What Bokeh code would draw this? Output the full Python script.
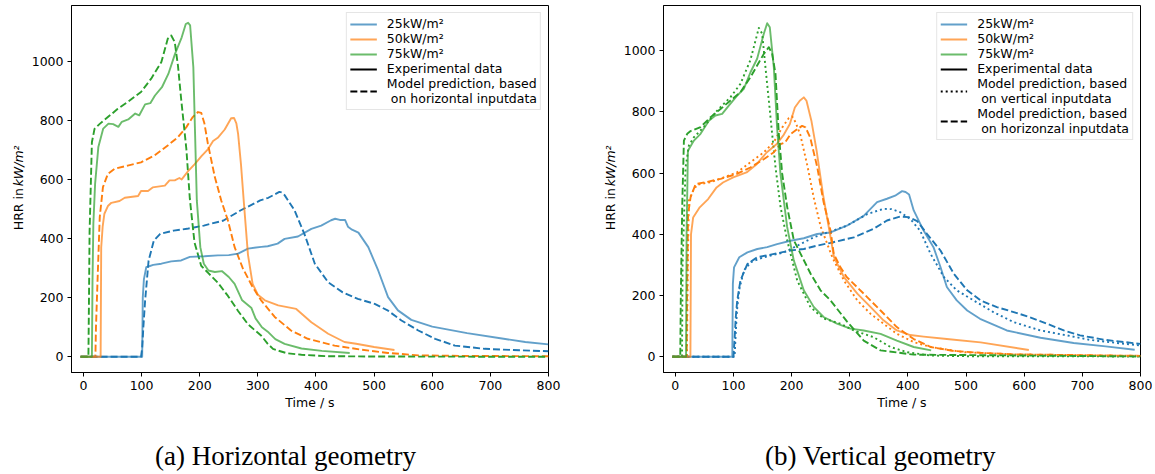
import math
from bokeh.plotting import figure
from bokeh.models import Range1d, Legend, LegendItem, FixedTicker
from bokeh.core.properties import value
from bokeh.layouts import row, column
from bokeh.embed import file_html
from bokeh.resources import INLINE

# ---------------- data: (a) horizontal geometry ----------------
h25_exp_t = [-5, 101, 102, 104, 108, 120, 134, 151, 168, 183, 208, 231, 250, 266, 283, 306, 317, 334, 346, 369, 392, 409, 426, 433, 441, 450, 455, 462, 473, 490, 507, 524, 541, 564, 600, 660, 720, 760, 800]
h25_exp_v = [0, 0, 200, 263, 303, 311, 315, 323, 326, 338, 340, 343, 344, 349, 366, 372, 374, 383, 399, 407, 433, 444, 462, 467, 463, 463, 440, 430, 420, 371, 292, 202, 157, 125, 102, 80, 62, 50, 42]
h25_mod_t = [-5, 99, 101, 103, 106, 112, 121, 132, 155, 178, 207, 241, 250, 270, 304, 318, 337, 341, 346, 363, 380, 398, 421, 446, 472, 501, 524, 547, 576, 605, 639, 690, 750, 800]
h25_mod_v = [0, 0, 30, 100, 189, 325, 393, 416, 427, 433, 444, 461, 472, 495, 529, 538, 558, 556, 547, 496, 416, 315, 252, 218, 196, 179, 156, 123, 89, 61, 38, 27, 22, 19]
h50_exp_t = [-5, 29.5, 30.5, 33, 36, 42, 48, 62, 71, 94, 99, 111, 119, 140, 148, 157, 165, 169, 180, 191, 203, 214, 223, 231, 243, 254, 259, 263, 266, 271, 276, 283, 291, 300, 312, 335, 366, 392, 421, 449, 469, 500, 535]
h50_exp_v = [0, 0, 370, 440, 484, 510, 521, 527, 538, 544, 561, 561, 573, 579, 597, 597, 605, 600, 628, 651, 679, 702, 730, 741, 769, 807, 808, 790, 754, 650, 520, 345, 247, 210, 191, 174, 162, 117, 78, 50, 44, 33, 23]
h50_mod_t = [-5, 20.5, 21.5, 24, 28, 33.5, 42, 53.5, 76, 99, 122, 145, 162.5, 177, 188, 197, 202.7, 208, 214, 226, 237, 248.5, 260, 274, 291, 306, 329, 357, 386, 432, 478, 524, 576, 650, 800]
h50_mod_v = [0, 0, 100, 247, 473, 574, 619, 636, 647, 658, 681, 715, 743, 777, 811, 828, 825, 790, 721, 608, 529, 461, 371, 300, 236, 190, 135, 89, 61, 38, 24, 13, 5, 3, 2]
h75_exp_t = [-5, 14.5, 15.5, 17, 20, 25.6, 34, 43, 51, 60, 66, 77, 89, 96, 106, 115, 123, 135, 146, 157.5, 169, 176, 180, 183.5, 189, 192, 195, 201, 207, 215, 226, 238, 250, 260, 273, 289, 296, 307, 317, 330, 346, 375, 410, 458]
h75_exp_v = [0, 0, 250, 450, 585, 710, 772, 789, 787, 778, 795, 803, 823, 817, 854, 858, 884, 912, 957, 1025, 1081, 1126, 1130, 1121, 980, 754, 529, 371, 315, 292, 287, 290, 270, 247, 191, 165, 130, 100, 85, 60, 44, 28, 20, 13]
h75_mod_t = [-5, 8.5, 9.5, 10.5, 14.5, 19, 28, 42, 59, 76, 99, 116.5, 134, 145, 151, 157, 162.5, 168, 177, 183, 191, 202.5, 214, 231, 248.5, 266, 283, 306, 317, 326, 335, 350, 375, 420, 500, 800]
h75_mod_v = [0, 0, 200, 422, 726, 771, 788, 811, 839, 862, 896, 941, 997, 1076, 1087, 1065, 986, 873, 703, 534, 387, 308, 285, 251, 206, 155, 110, 71, 44, 27, 21, 12, 7, 2, 1, 0]

# ---------------- data: (b) vertical geometry ----------------
v25_exp_t = [-5, 98, 99, 101, 110, 124, 141, 158, 175, 198, 221, 244, 267, 295, 324, 347, 364, 378, 390, 396, 402, 410, 427, 444, 456, 467, 484, 502, 524, 570, 628, 685, 740, 790]
v25_exp_v = [0, 0, 238, 292, 325, 341, 352, 358, 368, 379, 387, 401, 406, 428, 460, 505, 516, 526, 541, 538, 530, 478, 412, 358, 293, 228, 184, 151, 124, 86, 62, 45, 34, 23]
v25_vmod_t = [-5, 102, 104, 106, 110, 118, 130, 152, 187, 238, 295, 330, 358, 372, 387, 404, 421, 439, 462, 484, 513, 547, 582, 628, 673, 714, 760, 800]
v25_vmod_v = [0, 0, 80, 150, 220, 282, 309, 325, 341, 390, 428, 466, 483, 482, 472, 450, 412, 336, 260, 217, 184, 146, 113, 86, 70, 55, 45, 37]
v25_hmod_t = [-5, 100, 102, 104, 106.5, 112, 124, 141, 170, 198, 221, 244, 267, 307, 341, 364, 387, 401, 416, 433, 456, 479, 502, 525, 553, 582, 610, 639, 668, 696, 740, 800]
v25_hmod_v = [0, 0, 60, 130, 184, 249, 303, 325, 336, 347, 352, 363, 372, 390, 418, 445, 458, 456, 443, 401, 347, 271, 217, 184, 162, 146, 129, 108, 86, 70, 55, 42]
v50_exp_t = [-5, 26, 27, 30.7, 42, 56.5, 71, 82, 99.5, 122.5, 140, 157, 174, 185.5, 197, 205.6, 214, 221, 225.6, 234, 243, 254, 266, 273, 290, 313, 336, 358, 381, 404, 427, 467, 525, 608]
v50_exp_v = [0, 0, 400, 455, 488, 515, 553, 569, 586, 602, 629, 667, 694, 722, 760, 814, 836, 847, 836, 771, 673, 530, 401, 325, 260, 206, 162, 119, 86, 71, 66, 58, 47, 22]
v50_vmod_t = [-5, 20, 21.5, 23.4, 29, 37.7, 60.6, 83.5, 106, 129, 152, 169, 184, 195, 201, 207, 215, 227, 238, 250, 260, 270, 290, 313, 336, 358, 381, 410, 439, 496, 582, 800]
v50_vmod_v = [0, 0, 300, 510, 537, 562, 570, 586, 602, 635, 667, 700, 749, 779, 785, 765, 725, 625, 520, 425, 375, 325, 249, 184, 140, 108, 75, 48, 32, 15, 8, 3]
v50_hmod_t = [-5, 19.5, 20.5, 22, 26.3, 35, 52, 78, 106, 129, 152, 169, 181, 189, 198, 209.5, 218, 224, 232, 244, 255, 267, 272.5, 284, 295, 324, 353, 381, 410, 439, 479, 525, 582, 800]
v50_hmod_v = [0, 0, 250, 466, 521, 564, 570, 581, 597, 618, 645, 667, 694, 700, 727, 743, 754, 749, 716, 620, 505, 412, 336, 292, 260, 206, 151, 97, 58, 32, 19, 13, 8, 3]
v75_exp_t = [-5, 18.5, 19.4, 21.7, 32, 43.4, 57.7, 69, 80.6, 92, 106.4, 117.8, 129.3, 140.7, 152.2, 158, 162.5, 169.4, 175, 180.8, 192.3, 203.7, 220.9, 238, 255, 278, 301, 324, 353, 381, 410, 440]
v75_exp_v = [0, 0, 400, 673, 706, 728, 771, 788, 793, 820, 853, 875, 929, 973, 1055, 1089, 1076, 946, 750, 598, 424, 315, 217, 163, 130, 108, 92, 86, 75, 53, 32, 21]
v75_vmod_t = [-5, 11.5, 12.5, 17.7, 23.4, 32, 49, 72, 95, 112, 129, 138, 143.7, 149.4, 155, 163.7, 172.3, 181, 192.4, 209.6, 232.5, 255, 284, 307, 341, 370, 399, 439, 500, 800]
v75_vmod_v = [0, 0, 300, 619, 690, 717, 750, 804, 848, 891, 968, 1033, 1074, 1055, 946, 782, 619, 489, 380, 249, 162, 125, 108, 86, 64, 32, 15, 4, 2, 1]
v75_hmod_t = [-5, 8.5, 9.5, 12, 14.8, 20.5, 26.3, 43.4, 60.6, 77.8, 95, 112, 129.3, 140.7, 152.2, 160.9, 166.6, 172.3, 178, 183.8, 192.4, 203.9, 215.3, 232.5, 249.7, 266.9, 295.4, 324, 352.8, 410, 800]
v75_hmod_v = [0, 0, 200, 500, 706, 728, 737, 750, 782, 809, 837, 864, 913, 951, 989, 1011, 989, 924, 728, 598, 489, 380, 337, 272, 217, 184, 115, 53, 21, 7, 1]

# ---------------- labels / ticks ----------------
series_labels = ["25kW/m\u00b2", "50kW/m\u00b2", "75kW/m\u00b2"]
x_ticks = [0, 100, 200, 300, 400, 500, 600, 700, 800]
y_ticks = [0, 200, 400, 600, 800, 1000]
x_label = "Time / s"
y_label_parts = ["HRR in", "kW/m\u00b2"]
captions = ["(a) Horizontal geometry", "(b) Vertical geometry"]
legend_exp = "Experimental data"
legend_h = "Model prediction, based\n on horizontal inputdata"
legend_v_vert = "Model prediction, based\n on vertical inputdata"
legend_v_hor = "Model prediction, based\n on horizonzal inputdata"

COLORS = ["#1f77b4", "#ff7f0e", "#2ca02c"]
FONT = "DejaVu Sans"
FS = "12.5px"
LW = 1.9
DASH = "7 3"
DOT = "2 3"
NAN = float("nan")
PLOT_H = 418
CAP_H = 56


def blank(width, height):
    f = figure(width=width, height=height, output_backend="svg", toolbar_location=None,
               x_range=Range1d(0, width), y_range=Range1d(0, height),
               x_axis_type=None, y_axis_type=None,
               min_border_left=0, min_border_right=0, min_border_top=0, min_border_bottom=0)
    f.outline_line_color = None
    f.xgrid.visible = False
    f.ygrid.visible = False
    f.background_fill_color = "white"
    f.border_fill_color = "white"
    return f


def ylabel_panel(width, x_center):
    f = blank(width, PLOT_H)
    # rotated text, read bottom-to-top (anchors calibrated to the rendered position)
    f.text(x=[x_center], y=[PLOT_H - 256], text=[y_label_parts[0]], angle=math.pi / 2,
           text_align="left", text_baseline="middle", text_font=value(FONT),
           text_font_size=FS, text_color="black")
    f.text(x=[x_center], y=[PLOT_H - 206], text=[y_label_parts[1]], angle=math.pi / 2,
           text_align="left", text_baseline="middle", text_font=value(FONT),
           text_font_size=FS, text_font_style="italic", text_color="black")
    return f


def caption_panel(width, x_center, text):
    f = blank(width, CAP_H)
    f.text(x=[x_center], y=[19], text=[text], text_align="center",
           text_baseline="alphabetic", text_font=value("Liberation Serif"),
           text_font_size="27px", text_color="black")
    return f


def make_panel(width, border_left, border_right, x_start, y_range, exp, models, model_dashes,
               model_labels):
    p = figure(width=width, height=PLOT_H, output_backend="svg", toolbar_location=None,
               x_range=Range1d(x_start, 800), y_range=y_range,
               min_border_left=border_left, min_border_right=border_right,
               min_border_top=5, min_border_bottom=PLOT_H - 372)
    p.background_fill_color = "white"
    p.border_fill_color = "white"
    p.outline_line_color = "black"
    p.outline_line_width = 1
    p.xgrid.visible = False
    p.ygrid.visible = False
    p.xaxis.ticker = FixedTicker(ticks=x_ticks)
    p.yaxis.ticker = FixedTicker(ticks=y_ticks)
    for ax in (p.xaxis[0], p.yaxis[0]):
        ax.axis_line_color = "black"
        ax.major_tick_line_color = "black"
        ax.major_tick_out = 4
        ax.major_tick_in = 0
        ax.minor_tick_out = 0
        ax.minor_tick_in = 0
        ax.major_label_text_font = FONT
        ax.major_label_text_font_size = FS
        ax.major_label_text_color = "black"
        ax.major_label_standoff = 4
        ax.axis_label_text_font = FONT
        ax.axis_label_text_font_size = FS
        ax.axis_label_text_font_style = "normal"
        ax.axis_label_text_color = "black"
    p.xaxis.axis_label = x_label
    p.xaxis.axis_label_standoff = 2

    # model lines first (dashed/dotted), then experimental (solid, lighter)
    for mset, dash in zip(models, model_dashes):
        for i, (t, v) in enumerate(mset):
            p.line(t, v, line_color=COLORS[i], line_width=LW, line_dash=dash, line_join="round")
    exp_renderers = []
    for i, (t, v) in enumerate(exp):
        r = p.line(t, v, line_color=COLORS[i], line_alpha=0.7, line_width=LW, line_join="round")
        exp_renderers.append(r)

    items = [LegendItem(label=series_labels[i], renderers=[exp_renderers[i]]) for i in range(3)]
    r_exp = p.line([NAN], [NAN], line_color="black", line_width=LW)
    items.append(LegendItem(label=legend_exp, renderers=[r_exp]))
    for dash, lab in zip(model_dashes, model_labels):
        rd = p.line([NAN], [NAN], line_color="black", line_width=LW, line_dash=dash)
        items.append(LegendItem(label=lab, renderers=[rd]))
    legend = Legend(items=items, location="top_right", margin=7, padding=3, spacing=0,
                    glyph_width=27, glyph_height=14, label_height=14, label_standoff=10,
                    label_text_font=FONT, label_text_font_size=FS, label_text_color="black",
                    label_text_line_height=1.12,
                    background_fill_alpha=0.8, border_line_color="#cccccc", border_line_width=1)
    p.add_layout(legend)
    return p


# layout columns (page x): ylab1 0-28 | p1 28-590 (frame 70-548) | ylab2 590-620 | p2 620-1152 (frame 663-1140)
ylab1 = ylabel_panel(28, 18)
p1 = make_panel(562, 42, 42, -20.6, Range1d(-53.1, 1188.5),
                [(h25_exp_t, h25_exp_v), (h50_exp_t, h50_exp_v), (h75_exp_t, h75_exp_v)],
                [[(h25_mod_t, h25_mod_v), (h50_mod_t, h50_mod_v), (h75_mod_t, h75_mod_v)]],
                [DASH], [legend_h])
ylab2 = ylabel_panel(30, 19.5)
p2 = make_panel(532, 43, 12, -20.3, Range1d(-51.3, 1147),
                [(v25_exp_t, v25_exp_v), (v50_exp_t, v50_exp_v), (v75_exp_t, v75_exp_v)],
                [[(v25_vmod_t, v25_vmod_v), (v50_vmod_t, v50_vmod_v), (v75_vmod_t, v75_vmod_v)],
                 [(v25_hmod_t, v25_hmod_v), (v50_hmod_t, v50_hmod_v), (v75_hmod_t, v75_hmod_v)]],
                [DOT, DASH], [legend_v_vert, legend_v_hor])
cap1 = caption_panel(590, 285, captions[0])
cap2 = caption_panel(562, 290, captions[1])

layout = column(row(ylab1, p1, ylab2, p2), row(cap1, cap2))
open("out.html", "w").write(file_html(layout, INLINE))
